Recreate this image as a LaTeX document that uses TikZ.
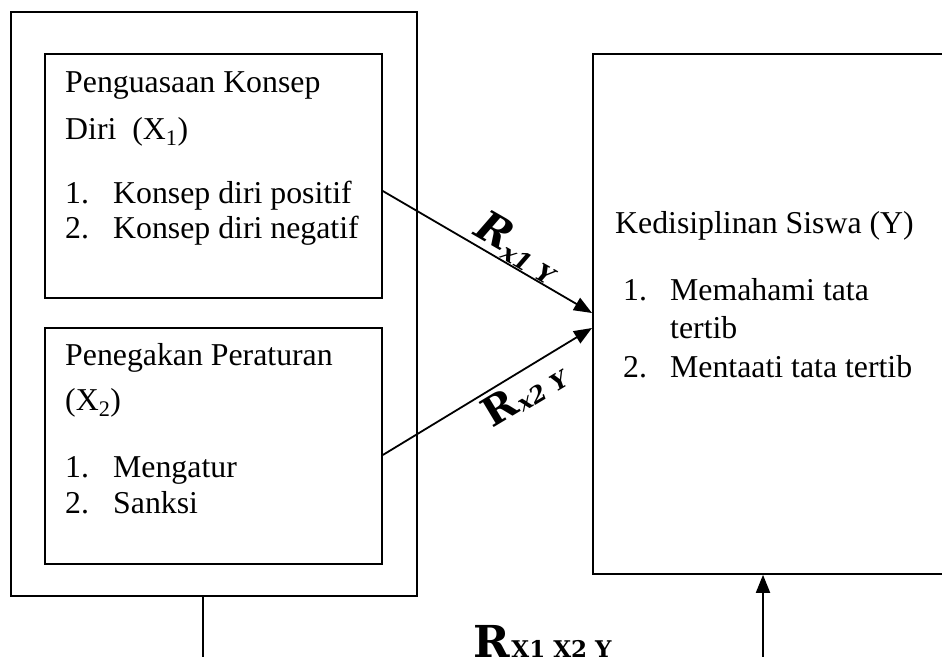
\documentclass[tikz,border=0pt]{standalone}
\usepackage{fontspec}
\setmainfont{Liberation Serif}
\newfontfamily\labfont{DejaVu Serif}
\usetikzlibrary{arrows.meta,calc}
\begin{document}
\begin{tikzpicture}[x=1pt,y=-1pt,
  box/.style={draw,line width=1.8pt,inner sep=0,anchor=north west},
  txt/.style={anchor=base west,inner sep=0,font=\fontsize{31.8}{38}\selectfont},
  conn/.style={line width=1.8pt},
  arr/.style={line width=1.8pt,-{Triangle[length=18pt,width=14pt]}},
  lab/.style={inner sep=0,font=\labfont\bfseries}]
\useasboundingbox (0,0) rectangle (942,656);
\clip (0,0) rectangle (942,656);
% boxes
\node[box,minimum width=406,minimum height=584] (outer) at (10,11) {};
\node[box,minimum width=337,minimum height=244] (box1) at (44,53) {};
\node[box,minimum width=337,minimum height=236] (box2) at (44,327) {};
\node[box,minimum width=420,minimum height=520] (boxY) at (592,53) {};
% texts box 1
\node[txt] (t11) at (65,92) {Penguasaan Konsep};
\node[txt] (t12) at (65,139) {Diri\ \ (X\textsubscript{1})};
\node[txt] (t13) at (65,203) {1.};
\node[txt] (t14) at (113,203) {Konsep diri positif};
\node[txt] (t15) at (65,238) {2.};
\node[txt] (t16) at (113,238) {Konsep diri negatif};
% texts box 2
\node[txt] (t21) at (65,365) {Penegakan Peraturan};
\node[txt] (t22) at (65,410) {(X\textsubscript{2})};
\node[txt] (t23) at (65,477) {1.};
\node[txt] (t24) at (113,477) {Mengatur};
\node[txt] (t25) at (65,513) {2.};
\node[txt] (t26) at (113,513) {Sanksi};
% texts box Y
\node[txt] (t31) at (615,233) {Kedisiplinan Siswa (Y)};
\node[txt] (t32) at (623,300) {1.};
\node[txt] (t33) at (670,300) {Memahami tata};
\node[txt] (t34) at (670,338) {tertib};
\node[txt] (t35) at (623,377) {2.};
\node[txt] (t36) at (670,377) {Mentaati tata tertib};
% connector points
\coordinate (s1) at ($(box1.north east)+(0,138)$);
\coordinate (e1) at ($(boxY.north west)+(0,260)$);
\coordinate (s2) at ($(box2.north east)+(0,128)$);
\coordinate (e2) at ($(boxY.north west)+(0,275)$);
\coordinate (b1) at ($(outer.south west)+(193,0)$);
\coordinate (b1e) at ($(b1)+(0,80)$);
\coordinate (b2) at ($(boxY.south west)+(171,0)$);
\coordinate (b2s) at ($(b2)+(0,100)$);
% connectors
\draw[arr] (s1) -- (e1);
\draw[arr] (s2) -- (e2);
\draw[conn] (b1) -- (b1e);
\draw[arr] (b2s) -- (b2);
% labels
\node[lab,rotate=-30] (l1) at (518,247) {{\fontsize{42}{42}\selectfont\itshape R}\raisebox{-6pt}{\fontsize{24}{24}\selectfont\itshape x1 Y}};
\node[lab,rotate=31] (l2) at (524,394) {{\fontsize{40}{40}\selectfont R}\,\raisebox{-2pt}{\fontsize{23}{23}\selectfont\itshape x2 Y}};
\node[lab,anchor=base west] (l3) at (473,657) {{\fontsize{44}{44}\selectfont R}\,{\fontsize{23}{23}\selectfont X1 X2 Y}};
\end{tikzpicture}
\end{document}
